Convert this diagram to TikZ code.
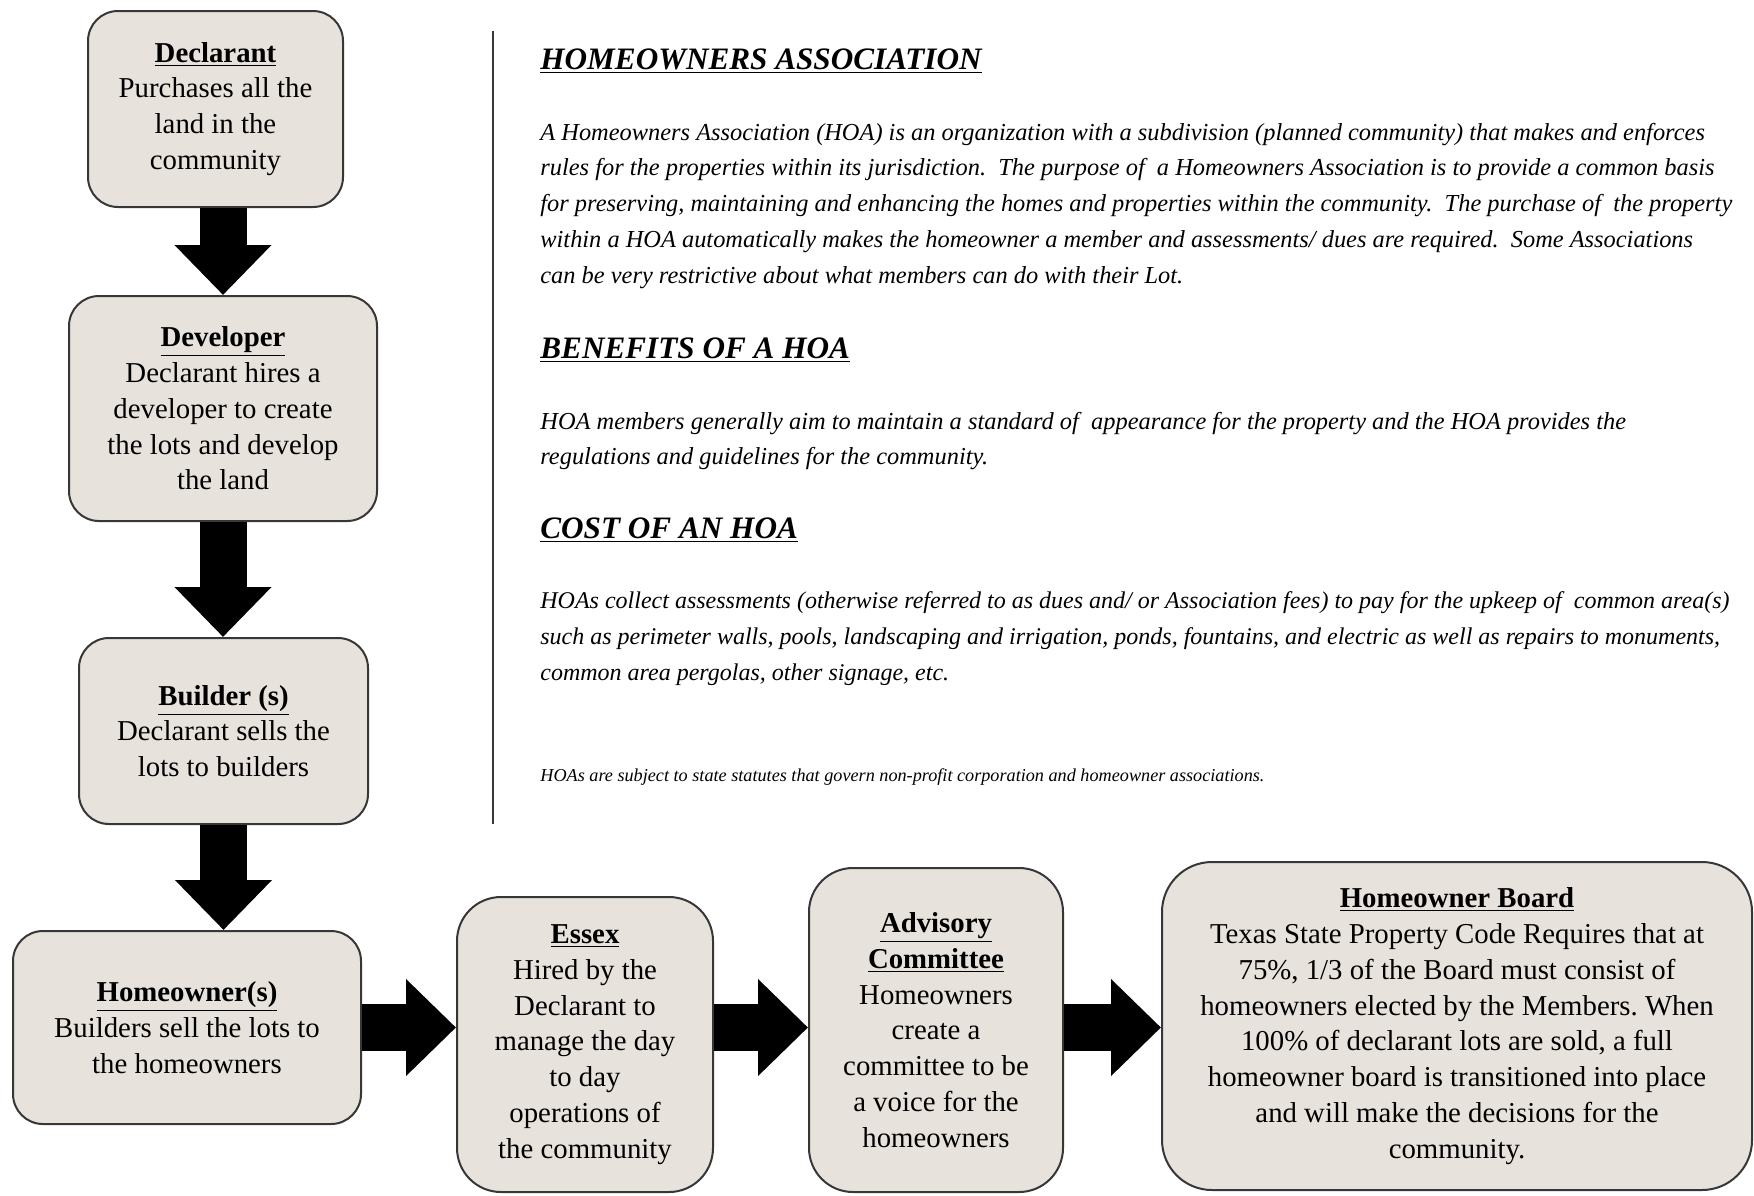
\documentclass[tikz,border=0pt]{standalone}
\usepackage{fontspec}
\setmainfont{Liberation Serif}
\usetikzlibrary{arrows.meta}
\definecolor{boxfill}{RGB}{231,227,220}
\definecolor{boxline}{RGB}{55,55,55}

\tikzset{
  stepbox/.style={draw=boxline, fill=boxfill, line width=1pt, rounded corners=15pt,
    align=center, inner sep=0pt, font=\fontsize{14.4}{17.9}\selectfont},
  bigarrow/.style={line width=23.5pt, -{Triangle[length=25pt,width=47pt]}},
  heading/.style={anchor=west, inner sep=0pt, font=\fontsize{15.6}{17.9}\selectfont\bfseries\itshape},
  para/.style={anchor=west, inner sep=0pt, align=left, font=\fontsize{12.2}{17.9}\selectfont\itshape}
}

\begin{document}
\begin{tikzpicture}[x=0.5pt,y=-0.5pt]
\useasboundingbox (0,0) rectangle (1754,1195);

% flow boxes
\node[stepbox, minimum width=127.5pt, minimum height=98pt] (decl) at (215.5,109)
  {\underline{\textbf{Declarant}}\\Purchases all the\\land in the\\community};
\node[stepbox, minimum width=154pt, minimum height=112.5pt] (dev) at (223,408.5)
  {\underline{\textbf{Developer}}\\Declarant hires a\\developer to create\\the lots and develop\\the land};
\node[stepbox, minimum width=144.5pt, minimum height=93pt] (build) at (223.5,731)
  {\underline{\textbf{Builder (s)}}\\Declarant sells the\\lots to builders};
\node[stepbox, minimum width=174pt, minimum height=96.5pt] (howner) at (187,1027.5)
  {\underline{\textbf{Homeowner(s)}}\\Builders sell the lots to\\the homeowners};
\node[stepbox, rounded corners=22pt, minimum width=128pt, minimum height=147.5pt] (essex) at (585,1044.5)
  {\underline{\textbf{Essex}}\\Hired by the\\Declarant to\\manage the day\\to day\\operations of\\the community};
\node[stepbox, rounded corners=22pt, minimum width=127pt, minimum height=162pt] (advis) at (936,1030)
  {\underline{\textbf{Advisory}}\\\underline{\textbf{Committee}}\\Homeowners\\create a\\committee to be\\a voice for the\\homeowners};
\node[stepbox, rounded corners=25pt, minimum width=295pt, minimum height=164pt] (board) at (1457,1026)
  {\underline{\textbf{Homeowner Board}}\\Texas State Property Code Requires that at\\75\%, 1/3 of\ the Board must consist of\\homeowners elected by the Members.\ When\\100\% of\ declarant lots are sold, a full\\homeowner board is transitioned into place\\and will make the decisions for the\\community.};

% block arrows
\draw[bigarrow] (decl.south -| dev.north) -- (dev.north);
\draw[bigarrow] (dev.south) -- (dev.south |- build.north);
\draw[bigarrow] (build.south) -- (build.south |- howner.north);
\draw[bigarrow] (howner.east) -- (howner.east -| essex.west);
\draw[bigarrow] (essex.east |- howner.east) -- (howner.east -| advis.west);
\draw[bigarrow] (advis.east |- howner.east) -- (howner.east -| board.west);

% separator
\draw[line width=1pt, boxline] (493,31) -- (493,824);

% text column
\node[heading] (h1) at (540,61.5) {\underline{HOMEOWNERS ASSOCIATION}};
\node[para] (p1) at (540,205.7)
  {A Homeowners Association (HOA) is an organization with a subdivision (planned community) that makes and enforces\\
   rules for the properties within its jurisdiction.\ \ The purpose of\ \ a Homeowners Association is to provide a common basis\\
   for preserving, maintaining and enhancing the homes and properties within the community.\ \ The purchase of\ \ the property\\
   within a HOA automatically makes the homeowner a member and assessments/ dues are required.\ \ Some Associations\\
   can be very restrictive about what members can do with their Lot.};
\node[heading] (h2) at (540,350) {\underline{BENEFITS OF A HOA}};
\node[para] (p2) at (540,441)
  {HOA members generally aim to maintain a standard of\ \ appearance for the property and the HOA provides the\\
   regulations and guidelines for the community.};
\node[heading] (h3) at (540,530) {\underline{COST OF AN HOA}};
\node[para, font=\fontsize{12}{17.9}\selectfont\itshape] (p3) at (540,638.7)
  {HOAs collect assessments (otherwise referred to as dues and/ or Association fees) to pay for the upkeep of\ \ common area(s)\\
   such as perimeter walls, pools, landscaping and irrigation, ponds, fountains, and electric as well as repairs to monuments,\\
   common area pergolas, other signage, etc.};
\node[para, font=\fontsize{9.1}{11}\selectfont\itshape] (foot) at (540,777.4)
  {HOAs are subject to state statutes that govern non-profit corporation and homeowner associations.};
\end{tikzpicture}
\end{document}
